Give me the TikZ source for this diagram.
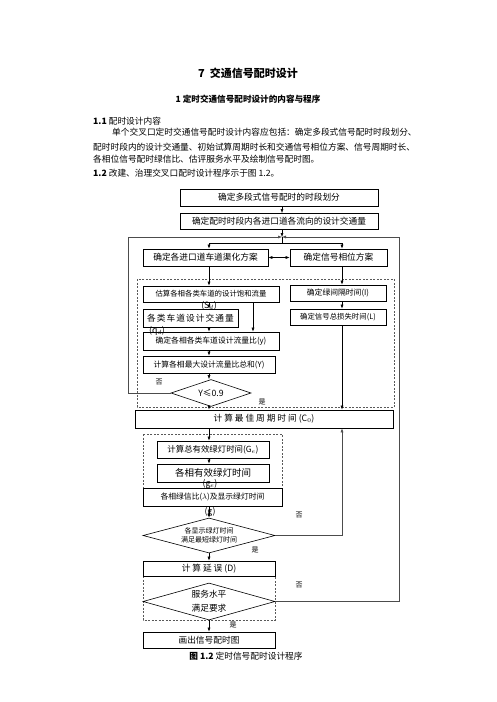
\documentclass[tikz,border=0pt]{standalone}
\usepackage{fontspec}
\newfontfamily\cjk{Noto Sans CJK SC}
\usetikzlibrary{shapes.geometric,arrows.meta}

\tikzset{
  txt/.style={font=\cjk\fontsize{8.7}{10.5}\selectfont, inner sep=0pt},
  small/.style={font=\cjk\fontsize{7.8}{9}\selectfont},
  box/.style={txt, draw, line width=0.6pt, minimum width=#1},
  decision/.style={txt, draw, diamond, line width=0.6pt, align=center},
  frame/.style={draw=gray!70!black, line width=0.5pt, dash pattern=on 2pt off 1.5pt},
  arr/.style={-{Latex[length=4pt,width=3pt]}, line width=0.5pt},
  back/.style={draw=gray!60!black, line width=0.5pt},
}

\begin{document}
\begin{tikzpicture}[x=1pt,y=-1pt]
  \useasboundingbox (0,0) rectangle (496,702);

  \node[txt, font=\cjk\bfseries\fontsize{11}{13}\selectfont] (title) at (248,73) {7~~交通信号配时设计};
  \node[txt, font=\cjk\bfseries\fontsize{8.6}{10}\selectfont] (sec) at (248,99) {1 定时交通信号配时设计的内容与程序};
  \node[txt, anchor=west] (sub1) at (93,121) {{\bfseries 1.1} 配时设计内容};
  \node[txt, anchor=west] (par1) at (112,132) {单个交叉口定时交通信号配时设计内容应包括：确定多段式信号配时时段划分、};
  \node[txt, anchor=west] (par2) at (93,147) {配时时段内的设计交通量、初始试算周期时长和交通信号相位方案、信号周期时长、};
  \node[txt, anchor=west] (par3) at (93,159) {各相位信号配时绿信比、估评服务水平及绘制信号配时图。};
  \node[txt, anchor=west] (sub2) at (93,173) {{\bfseries 1.2} 改建、治理交叉口配时设计程序示于图 1.2。};

  \draw[frame] (137,279) rectangle (394,407);
  \draw[frame] (143,434) rectangle (282,506);
  \draw[frame] (143,576) rectangle (275,620);

  \node[box=198, minimum height=17] (period) at (279,197.5) {确定多段式信号配时的时段划分};
  \node[box=198, minimum height=16] (volume) at (279,221) {确定配时时段内各进口道各流向的设计交通量};
  \node[box=125, minimum height=17] (lane) at (205.5,257.5) {确定各进口道车道渠化方案};
  \node[box=97, minimum height=17] (phase) at (338.5,257.5) {确定信号相位方案};
  \node[box=136, minimum height=16, font=\cjk\fontsize{7.4}{9}\selectfont] (satur) at (211,294) {估算各相各类车道的设计饱和流量};
  \node[box=95, minimum height=18, font=\cjk\fontsize{8.7}{10}\selectfont\addfontfeature{LetterSpace=12}] (lanevol) at (190.5,318) {各类车道设计交通量};
  \node[box=136, minimum height=18, small] (ratio) at (211,341) {确定各相各类车道设计流量比(y)};
  \node[box=132, minimum height=17, small] (ratiosum) at (209,364.5) {计算各相最大设计流量比总和(Y)};
  \node[box=96, minimum height=16, small] (inter) at (338,293) {确定绿间隔时间(I)};
  \node[box=96, minimum height=16, font=\cjk\fontsize{7.4}{9}\selectfont] (loss) at (338,317) {确定信号总损失时间(L)};
  \node[decision, aspect=3, minimum width=80, minimum height=27] (check) at (211,393) {Y≤0.9};
  \node[box=258, minimum height=18] (cycle) at (264,419) {计 算 最 佳 周 期 时 间 (C$_0$)};
  \node[box=112, minimum height=17, font=\cjk\fontsize{8.4}{10}\selectfont] (green) at (213,449.5) {计算总有效绿灯时间(G$_e$)};
  \node[box=112, minimum height=18, font=\cjk\fontsize{9.5}{11}\selectfont] (phgreen) at (213,473) {各相有效绿灯时间};
  \node[box=139, minimum height=18, fill=white, small] (split) at (212.5,497) {各相绿信比($\lambda$)及显示绿灯时间};
  \node[decision, aspect=3.77, minimum width=132, minimum height=35, font=\cjk\fontsize{7}{8.5}\selectfont] (mingreen) at (209,535.5) {各显示绿灯时间\\满足最短绿灯时间};
  \node[box=132, minimum height=15] (delay) at (209,568.5) {计 算 延 误 (D)};
  \node[decision, aspect=3.57, minimum width=132, minimum height=37, font=\cjk\fontsize{8.7}{14}\selectfont] (service) at (209,601.5) {服务水平\\满足要求};
  \node[box=132, minimum height=16] (plot) at (209,640) {画出信号配时图};
  \node[txt] (caption) at (246,656) {{\bfseries 图 1.2} 定时信号配时设计程序};

  \node[txt] (sdlab) at (209,306) {(S$_d$)};
  \node[txt] (qdlab) at (157,331) {(q$_d$)};
  \node[txt] (gelab) at (210,484) {(g$_e$)};
  \node[txt] (glab) at (210,512) {(g)};

  \node[txt, font=\cjk\fontsize{7}{8}\selectfont] (no1) at (159,382) {否};
  \node[txt, font=\cjk\fontsize{7}{8}\selectfont] (yes1) at (262,402) {是};
  \node[txt, font=\cjk\fontsize{7}{8}\selectfont] (no2) at (299,515) {否};
  \node[txt, font=\cjk\fontsize{7}{8}\selectfont] (yes2) at (255,550) {是};
  \node[txt, font=\cjk\fontsize{7}{8}\selectfont] (no3) at (299,585) {否};
  \node[txt, font=\cjk\fontsize{7}{8}\selectfont] (yes3) at (233,625) {是};

  \coordinate (join) at (282,237);
  \coordinate (fork) at (282,243);

  \draw[arr] (282,206) -- (282,213);
  \draw[arr] (volume.south -| join) -- (join);
  \draw[back, arr] (check.west) -- (128,393) -- (128,237) -- (join);
  \draw[back, arr] (service.east) -- (399,601.5) -- (399,237) -- (join);
  \draw[line width=0.5pt] (join) -- (fork);
  \draw[arr] (fork) -| (lane.north -| 209,0);
  \draw[arr] (fork) -| (phase.north -| 342,0);
  \draw[arr, {Latex[length=4pt,width=3pt]}-{Latex[length=4pt,width=3pt]}] (lane.east) -- (phase.west);
  \draw[arr] (lane.south -| 209,0) -- (satur.north -| 209,0);
  \draw[arr] (phase.south -| 342,0) -- (inter.north -| 342,0);
  \draw[arr] (satur.south -| 209,0) -- (lanevol.north -| 209,0);
  \draw[arr] (satur.south -| 253,0) -- (ratio.north -| 253,0);
  \draw[arr] (lanevol.south -| 209,0) -- (ratio.north -| 209,0);
  \draw[arr] (ratio.south -| 209,0) -- (ratiosum.north -| 209,0);
  \draw[arr] (ratiosum.south -| 209,0) -- (check.north -| 209,0);
  \draw[arr] (check.south -| 209,0) -- (cycle.north -| 209,0);
  \draw[arr] (inter.south -| 342,0) -- (loss.north -| 342,0);
  \draw[arr] (loss.south -| 342,0) -- (cycle.north -| 342,0);
  \draw[arr] (cycle.south -| 209,0) -- (green.north -| 209,0);
  \draw[arr] (green.south -| 209,0) -- (phgreen.north -| 209,0);
  \draw[arr] (split.south -| 209,0) -- (mingreen.north -| 209,0);
  \draw[back, arr] (mingreen.east) -- (342,535.5) -- (cycle.south -| 342,0);
  \draw[arr] (mingreen.south -| 209,0) -- (delay.north -| 209,0);
  \draw[arr] (service.south -| 209,0) -- (plot.north -| 209,0);
\end{tikzpicture}
\end{document}
